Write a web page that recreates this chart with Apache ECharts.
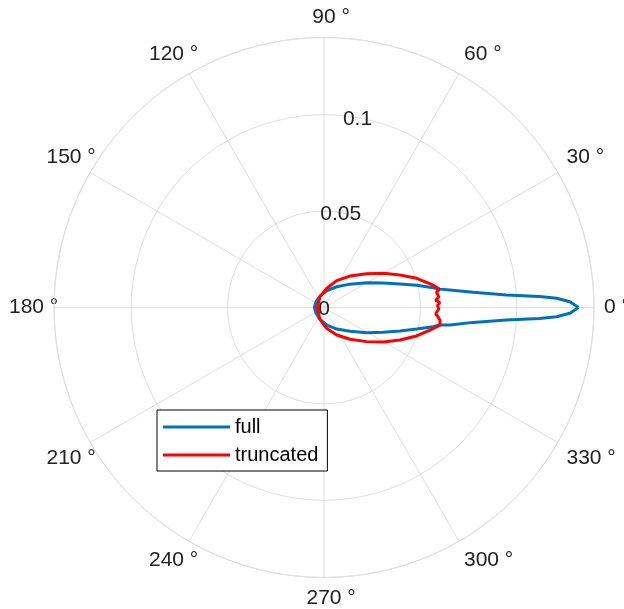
<!DOCTYPE html>
<html><head><meta charset="utf-8">
<script src="https://cdn.jsdelivr.net/npm/echarts@6/dist/echarts.min.js"></script>
<style>html,body{margin:0;padding:0;background:#fff}#c{width:624px;height:609px}</style>
</head><body><div id="c"></div>
<script>
// ---- data ----
const seriesNames = ['full', 'truncated'];

// "full": angle (deg) and radius value
const fullAngles = [0, 1.35, 2.26, 2.9, 3.9, 5.8, 7.9, 9.0, 10.3, 13.5, 17.2, 22.4, 30.2, 42, 58.6, 81, 109, 144, 180,
  216, 251, 279, 300.6, 317.5, 329.4, 337.3, 342.8, 346.9, 350, 351.4, 352.1, 354.3, 356.1, 357.1, 357.74, 358.65, 360];
const fullValues = [0.132, 0.1275, 0.1207, 0.1119, 0.0948, 0.0777, 0.0658, 0.0609, 0.0575, 0.0494, 0.0412, 0.0333, 0.0256, 0.0181, 0.0126, 0.0088, 0.0063, 0.0051, 0.0050,
  0.0051, 0.0065, 0.0092, 0.0130, 0.0183, 0.0257, 0.0333, 0.0412, 0.0493, 0.0575, 0.0605, 0.0659, 0.0777, 0.0948, 0.1119, 0.1207, 0.1275, 0.132];

// "truncated": angle (deg) and radius value
const truncAngles = [0, 1.1, 2.4, 3.7, 5.2, 7.8, 8.96, 11.6, 17.5, 23.2, 30, 38.4, 50.5, 64.7, 82, 110, 180,
  251, 277, 294.8, 309.3, 321.3, 329.8, 336.8, 342.9, 348, 351.3, 353.7, 355.2, 356.8, 359.4, 360];
const truncValues = [0.0592, 0.0589, 0.0601, 0.0580, 0.0598, 0.0589, 0.0605, 0.0578, 0.0504, 0.0428, 0.0355, 0.0282, 0.0211, 0.0154, 0.0100, 0.0060, 0.0035,
  0.0065, 0.0109, 0.0157, 0.0213, 0.0283, 0.0355, 0.0428, 0.0502, 0.0562, 0.0608, 0.0605, 0.0594, 0.0580, 0.0596, 0.0592];

// tick labels
const radiusTickValues = [0, 0.05, 0.1];
const radiusTickLabels = ['0', '0.05', '0.1'];
const radiusLabelAngle = 80;
const angleTickValues = [0, 30, 60, 90, 120, 150, 180, 210, 240, 270, 300, 330];
const angleTickLabels = ['0', '30', '60', '90', '120', '150', '180', '210', '240', '270', '300', '330'];
const degreeSuffix = ' °';

const FONT = "'Liberation Sans', Arial, Helvetica, sans-serif";
const GRID = '#dedede';
const TXT = '#222222';

const chart = echarts.init(document.getElementById('c'), null, {renderer: 'canvas'});
chart.setOption({
  animation: false,
  backgroundColor: '#fff',
  textStyle: {fontFamily: FONT},
  polar: {center: [324, 307.5], radius: 270},
  angleAxis: {
    type: 'value', min: 0, max: 360, interval: 30, startAngle: 0, clockwise: false,
    axisLine: {show: true, lineStyle: {color: GRID, width: 1}},
    axisTick: {show: false},
    axisLabel: {
      margin: 10, fontSize: 21, color: TXT, fontFamily: FONT,
      formatter: v => {
        const i = angleTickValues.indexOf(v);
        return i >= 0 ? '{n|' + angleTickLabels[i] + '}{d|' + degreeSuffix + '}' : '';
      },
      rich: {
        n: {fontSize: 21, color: TXT, fontFamily: FONT, align: 'left'},
        d: {fontSize: 21, color: TXT, fontFamily: FONT, width: 0, align: 'left'}
      }
    },
    splitLine: {show: true, lineStyle: {color: GRID, width: 1}}
  },
  radiusAxis: {
    type: 'value', min: 0, max: 0.14, interval: 0.05,
    axisLine: {show: false}, axisTick: {show: false}, axisLabel: {show: false},
    splitLine: {show: true, lineStyle: {color: GRID, width: 1}}
  },
  legend: {
    orient: 'vertical', left: 157, top: 410, padding: [7, 9, 6, 6], itemGap: 8,
    itemWidth: 67, itemHeight: 3, icon: 'rect',
    borderColor: '#000', borderWidth: 1, borderRadius: 0, backgroundColor: '#fff',
    textStyle: {fontSize: 20, color: '#000', fontFamily: FONT},
    data: seriesNames
  },
  series: [
    {
      name: seriesNames[0], type: 'line', coordinateSystem: 'polar',
      showSymbol: false, symbol: 'none', color: '#0072BD',
      lineStyle: {width: 3, color: '#0072BD'},
      data: fullAngles.map((a, i) => [fullValues[i], a]), z: 2
    },
    {
      name: seriesNames[1], type: 'line', coordinateSystem: 'polar',
      showSymbol: false, symbol: 'none', color: '#FF0000',
      lineStyle: {width: 3, color: '#FF0000'},
      data: truncAngles.map((a, i) => [truncValues[i], a]), z: 3
    },
    {
      name: 'rlabels', type: 'scatter', coordinateSystem: 'polar',
      symbolSize: 1, itemStyle: {color: 'rgba(0,0,0,0)'}, silent: true, z: 5,
      emphasis: {disabled: true},
      label: {
        show: true, position: 'inside', fontSize: 21, color: TXT, opacity: 1, fontFamily: FONT,
        offset: [0, 2],
        formatter: p => radiusTickLabels[p.dataIndex]
      },
      data: radiusTickValues.map(v => [v, radiusLabelAngle])
    }
  ]
});
</script>
</body></html>
